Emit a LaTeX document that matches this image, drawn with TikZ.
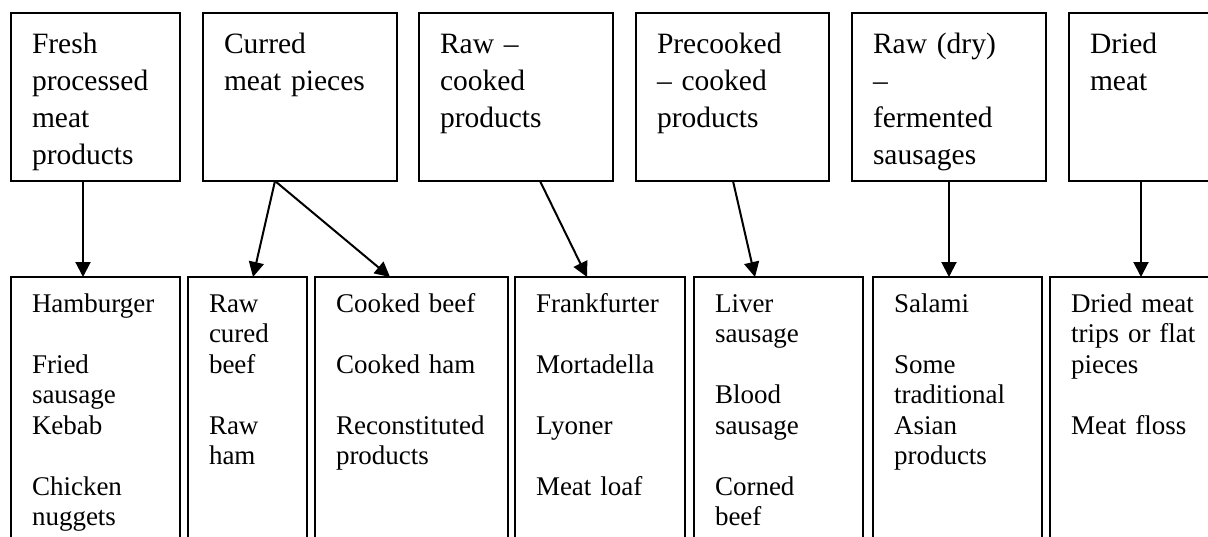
\documentclass[tikz,border=0pt]{standalone}
\usepackage{fontspec}
\setmainfont{Liberation Serif}
\usetikzlibrary{arrows.meta}

\begin{document}
\begin{tikzpicture}[x=1pt, y=-1pt, >={Triangle[length=15pt, width=15pt]},
	cat/.style={draw, line width=2pt, outer sep=0pt, anchor=north west, align=left, inner xsep=21pt, inner ysep=0pt, text width=#1, text height=40pt, text depth=128pt, font=\fontsize{29.5}{37}\selectfont},
	ex/.style={draw, line width=1.8pt, outer sep=0pt, anchor=north west, align=left, inner xsep=21pt, inner ysep=0pt, text width=#1, text height=35pt, text depth=320pt, font=\fontsize{27}{30.5}\selectfont},
	arr/.style={->, line width=2pt}]
	\useasboundingbox (0,0) rectangle (1208,536);
	\clip (0,0) rectangle (1208,536);
	% categories
	\node[cat=127] (fresh) at (11,13) {Fresh\\ processed\\ meat\\ products};
	\node[cat=152] (cured) at (203,13) {Curred\\ meat pieces};
	\node[cat=152] (rawck) at (419,13) {Raw --\\ cooked\\ products};
	\node[cat=151] (preck) at (636,13) {Precooked\\ -- cooked\\ products};
	\node[cat=152] (ferm) at (852,13) {Raw (dry)\\ --\\ fermented\\ sausages};
	\node[cat=152] (dried) at (1069,13) {Dried\\ meat};
	% examples
	\node[ex=127] (hamb) at (11,277) {Hamburger\\[\baselineskip] Fried\\ sausage\\ Kebab\\[\baselineskip] Chicken\\ nuggets};
	\node[ex=77] (rawbf) at (188,277) {Raw\\ cured\\ beef\\[\baselineskip] Raw\\ ham};
	\node[ex=151] (ckbf) at (315,277) {Cooked beef\\[\baselineskip] Cooked ham\\[\baselineskip] Reconstituted\\ products};
	\node[ex=128] (frank) at (515,277) {Frankfurter\\[\baselineskip] Mortadella\\[\baselineskip] Lyoner\\[\baselineskip] Meat loaf};
	\node[ex=127] (liver) at (694,277) {Liver\\ sausage\\[\baselineskip] Blood\\ sausage\\[\baselineskip] Corned\\ beef};
	\node[ex=127] (salami) at (873,277) {Salami\\[\baselineskip] Some\\ traditional\\ Asian\\ products};
	\node[ex=127] (strips) at (1050,277) {Dried meat\\ trips or flat\\ pieces\\[\baselineskip] Meat floss};
	% arrows
	\draw[arr] ([xshift=72pt]fresh.south west) -- ([xshift=72pt]hamb.north west);
	\draw[arr] ([xshift=72pt]cured.south west) -- ([xshift=65pt]rawbf.north west);
	\draw[arr] ([xshift=72pt]cured.south west) -- ([xshift=75pt]ckbf.north west);
	\draw[arr] ([xshift=121pt]rawck.south west) -- ([xshift=72pt]frank.north west);
	\draw[arr] ([xshift=97pt]preck.south west) -- ([xshift=61pt]liver.north west);
	\draw[arr] ([xshift=97pt]ferm.south west) -- ([xshift=76pt]salami.north west);
	\draw[arr] ([xshift=72pt]dried.south west) -- ([xshift=91pt]strips.north west);
\end{tikzpicture}
\end{document}
